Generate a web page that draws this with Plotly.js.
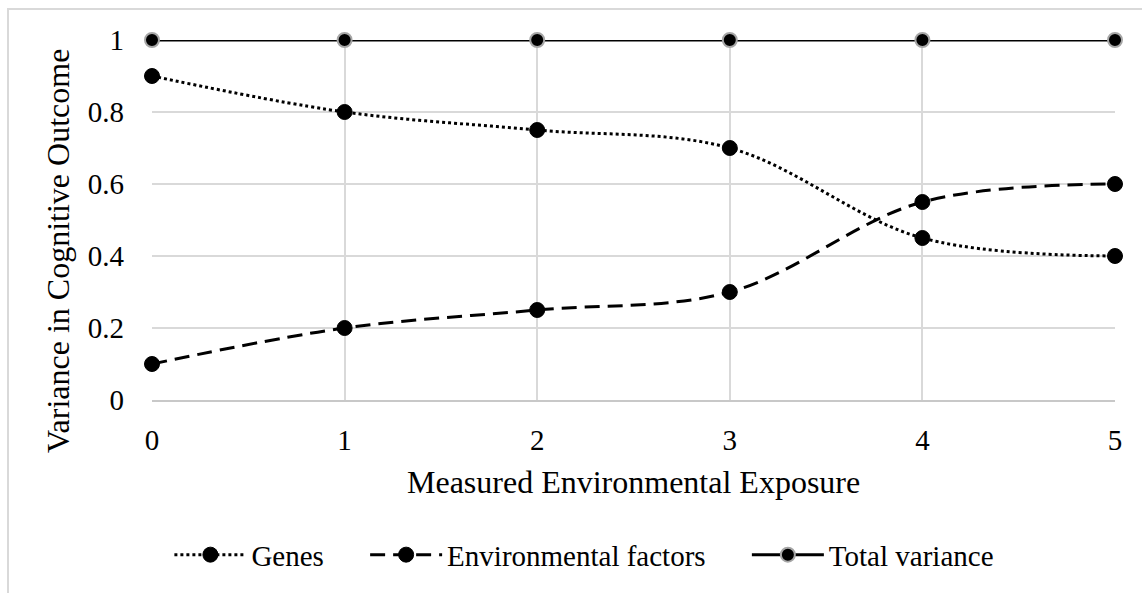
<!DOCTYPE html>
<html>
<head>
<meta charset="utf-8">
<script src="https://cdn.plot.ly/plotly-3.0.1.min.js"></script>
<style>
  html, body { margin: 0; padding: 0; background: #ffffff; }
  #chart { width: 1142px; height: 593px; }
</style>
</head>
<body>
<div id="chart"></div>
<script>
// Measured environmental exposure levels
const exposure = [0, 1, 2, 3, 4, 5];

// Share of variance in the cognitive outcome
const genes = [0.9, 0.8, 0.75, 0.7, 0.45, 0.4];
const environmentalFactors = [0.1, 0.2, 0.25, 0.3, 0.55, 0.6];
const totalVariance = [1, 1, 1, 1, 1, 1];

const yTickValues = [0, 0.2, 0.4, 0.6, 0.8, 1];
const yTickLabels = ['0', '0.2', '0.4', '0.6', '0.8', '1'];

const serif = 'Liberation Serif';
const pad = '\u00a0'.repeat(5);

const traces = [
  {
    x: exposure, y: genes, name: 'Genes' + pad,
    type: 'scatter', mode: 'lines+markers',
    line: { color: '#000000', width: 3, dash: 'dot', shape: 'spline', smoothing: 1 },
    marker: { color: '#000000', size: 15, line: { color: '#000000', width: 1 } },
    cliponaxis: false
  },
  {
    x: exposure, y: environmentalFactors, name: 'Environmental factors' + pad,
    type: 'scatter', mode: 'lines+markers',
    line: { color: '#000000', width: 3, dash: '15px,8px', shape: 'spline', smoothing: 1 },
    marker: { color: '#000000', size: 15, line: { color: '#000000', width: 1 } },
    cliponaxis: false
  },
  {
    x: exposure, y: totalVariance, name: 'Total variance',
    type: 'scatter', mode: 'lines+markers',
    line: { color: '#000000', width: 3 },
    marker: { color: '#000000', size: 14, line: { color: '#a6a6a6', width: 2 } },
    cliponaxis: false
  }
];

const layout = {
  width: 1142, height: 593,
  margin: { l: 152, r: 27, t: 40, b: 193 },
  paper_bgcolor: '#ffffff', plot_bgcolor: '#ffffff',
  font: { family: serif, size: 29, color: '#000000' },
  showlegend: true,
  legend: {
    orientation: 'h', x: 0.449, xanchor: 'center', y: -0.43, yanchor: 'middle',
    font: { family: serif, size: 29, color: '#000000' },
    itemwidth: 72
  },
  xaxis: {
    range: [0, 5], tickvals: exposure, ticktext: exposure.map(String),
    showgrid: true, gridcolor: '#d9d9d9', gridwidth: 2,
    showline: true, linecolor: '#c8c8c8', linewidth: 2,
    zeroline: false, ticks: '', ticklabelstandoff: 13,
    tickfont: { family: serif, size: 29, color: '#000000' }
  },
  yaxis: {
    range: [0, 1], tickvals: yTickValues, ticktext: yTickLabels,
    showgrid: true, gridcolor: '#d9d9d9', gridwidth: 2,
    showline: false, zeroline: false, ticks: '', ticklabelstandoff: 27,
    tickfont: { family: serif, size: 29, color: '#000000' }
  },
  annotations: [
    {
      text: 'Measured Environmental Exposure', xref: 'paper', yref: 'paper',
      x: 0.5, y: -0.228, xanchor: 'center', yanchor: 'middle', showarrow: false,
      font: { family: serif, size: 32, color: '#000000' }
    },
    {
      text: 'Variance in Cognitive Outcome', xref: 'paper', yref: 'paper',
      x: -0.0976, y: 0.414, xanchor: 'center', yanchor: 'middle', showarrow: false,
      textangle: -90,
      font: { family: serif, size: 32, color: '#000000' }
    }
  ],
  shapes: [
    {
      type: 'rect', xref: 'paper', yref: 'paper',
      x0: -144 / 963, x1: 1.2, y0: -1, y1: 1 + 31 / 360,
      line: { color: '#d9d9d9', width: 2 }, fillcolor: 'rgba(0,0,0,0)', layer: 'below'
    }
  ]
};

Plotly.newPlot('chart', traces, layout, { displayModeBar: false, staticPlot: true });
</script>
</body>
</html>
